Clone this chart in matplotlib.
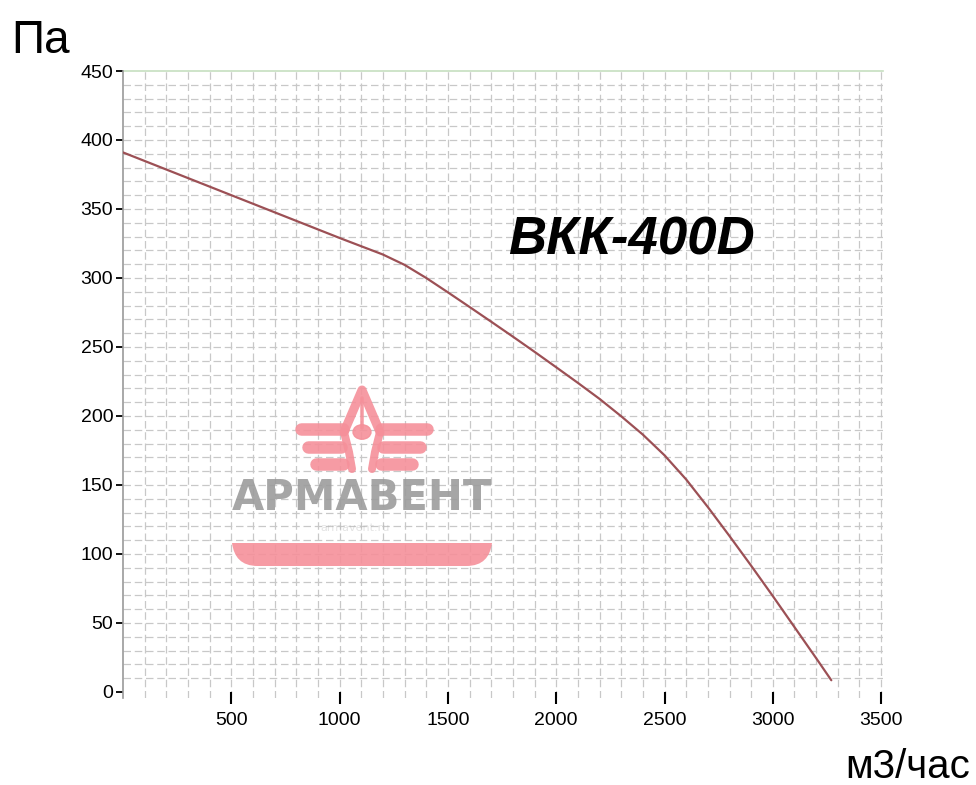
import matplotlib
matplotlib.use('Agg')
import matplotlib.pyplot as plt
import numpy as np
from matplotlib.path import Path
from matplotlib.patches import PathPatch, Circle
from matplotlib.lines import Line2D

# ---------------- data ----------------
flow = [0, 100, 200, 300, 400, 500, 600, 700, 800, 900, 1000, 1100, 1200,
        1300, 1400, 1500, 1600, 1700, 1800, 1900, 2000, 2100, 2200, 2300,
        2400, 2500, 2600, 2700, 2800, 2900, 3000, 3100, 3200, 3270]
pressure = [391, 384.8, 378.6, 372.4, 366.2, 360, 353.8, 347.6, 341.4, 335.2,
            329, 323, 317, 309.5, 300, 289.6, 279, 268.3, 257.5, 246.5,
            235.3, 224, 212.4, 199.8, 186.5, 171.5, 154, 134, 113, 91.5,
            69.5, 47, 24.5, 8.5]
x_ticks = [500, 1000, 1500, 2000, 2500, 3000, 3500]
y_ticks = [0, 50, 100, 150, 200, 250, 300, 350, 400, 450]
model_name = 'ВКК-400D'
y_unit = 'Па'
x_unit = 'м3/час'
brand = 'АРМАВЕНТ'

W, H = 976, 785
fig = plt.figure(figsize=(W / 100, H / 100), dpi=100)
fig.patch.set_facecolor('white')

# axes placement (pixels)
left_px, right_px, top_px, bot_px = 123, 883.3, 71, 697.5
ax = fig.add_axes([left_px / W, 1 - bot_px / H,
                   (right_px - left_px) / W, (bot_px - top_px) / H])
ax.set_xlim(0, 3510)
ax.set_ylim(-4, 450)
ax.set_facecolor('white')

# grid
grid_col = '#c8c8c8'
dash = (0, (6, 3))
for v in np.arange(100, 3501, 100):
    ax.axvline(v, color=grid_col, lw=0.9, ls=dash, zorder=0)
for h in np.arange(10, 450, 10):
    ax.axhline(h, color=grid_col, lw=0.9, ls=dash, zorder=0)
ax.axhline(450, color='#c6dfc0', lw=1.2, zorder=0.5, clip_on=False)

for s in ['top', 'right', 'bottom']:
    ax.spines[s].set_visible(False)
ax.spines['left'].set_color('#9a9a9a')
ax.spines['left'].set_linewidth(1.2)

ax.set_xticks(x_ticks)
ax.set_xticklabels([str(t) for t in x_ticks])
ax.set_yticks(y_ticks)
ax.set_yticklabels([str(t) for t in y_ticks])
ax.tick_params(axis='x', direction='inout', length=9, width=1.5,
               color='black', pad=6, labelsize=14)
ax.tick_params(axis='y', direction='out', length=5, width=1.3,
               color='black', pad=2, labelsize=14)
for lab in ax.get_xticklabels() + ax.get_yticklabels():
    lab.set_family(['Liberation Sans', 'DejaVu Sans'])

# curve
ax.plot(flow, pressure, color='#9c5055', lw=1.6, zorder=5,
        solid_capstyle='round', solid_joinstyle='round')

# model label
ax.text(2347, 327, model_name, ha='center', va='center', fontsize=38,
        fontweight='bold', style='italic',
        family=['Liberation Sans', 'DejaVu Sans'], color='black', zorder=6)

# unit labels
fig.text(11 / W, 1 - 53 / H, y_unit, ha='left', va='baseline', fontsize=33,
         family=['Liberation Sans', 'DejaVu Sans'])
fig.text(970 / W, 1 - 778 / H, x_unit, ha='right', va='baseline', fontsize=29,
         family=['Liberation Sans', 'DejaVu Sans'])

# ---------------- watermark ----------------
pink = '#f5909a'
walpha = 0.9


def fp(x, y):
    return (x / W, 1 - y / H)


def pline(pts, lw_px, cap='round'):
    xs = [p[0] / W for p in pts]
    ys = [1 - p[1] / H for p in pts]
    ln = Line2D(xs, ys, transform=fig.transFigure, color=pink, alpha=walpha,
                lw=lw_px * 0.72, solid_capstyle=cap,
                solid_joinstyle='round')
    fig.add_artist(ln)


cx = 362
# roof legs
pline([(cx - 18, 432), (cx, 390), (cx + 18, 432)], 9)
pline([(cx - 18, 432), (cx - 13, 452), (cx - 10, 469)], 8)
pline([(cx + 18, 432), (cx + 13, 452), (cx + 10, 469)], 8)
# stem + circle
pline([(cx, 398), (cx, 428)], 3.5)
fig.add_artist(Circle(fp(cx, 432), 9 / W, transform=fig.transFigure,
                      color=pink, alpha=walpha))
# wings
for (xl, xr, yc, lw) in [(301, 343, 429, 12.5), (308, 341, 447, 12.5),
                         (316, 343, 464, 12.5)]:
    pline([(xl, yc), (xr, yc)], lw)
    pline([(2 * cx - xl + 4, yc), (2 * cx - xr, yc)], lw)

# brand text
fig.text(362 / W, 1 - 498 / H, brand, ha='center', va='center', fontsize=30,
         fontweight='bold', family='DejaVu Sans', color='#9c9c9c', alpha=0.9)
fig.text(355 / W, 1 - 528 / H, 'armavent.ru', ha='center', va='center',
         fontsize=8, family='DejaVu Sans', color='#b0b0b0', alpha=0.35)

# pink bar
verts = [fp(232, 543), fp(492, 543),
         fp(490, 557), fp(483, 566), fp(466, 566),
         fp(258, 566),
         fp(241, 566), fp(234, 557), fp(232, 543),
         fp(232, 543)]
codes = [Path.MOVETO, Path.LINETO,
         Path.CURVE4, Path.CURVE4, Path.CURVE4,
         Path.LINETO,
         Path.CURVE4, Path.CURVE4, Path.CURVE4,
         Path.CLOSEPOLY]
fig.add_artist(PathPatch(Path(verts, codes), transform=fig.transFigure,
                         facecolor=pink, edgecolor='none', alpha=walpha))

fig.savefig('out.png', dpi=100, facecolor='white')
